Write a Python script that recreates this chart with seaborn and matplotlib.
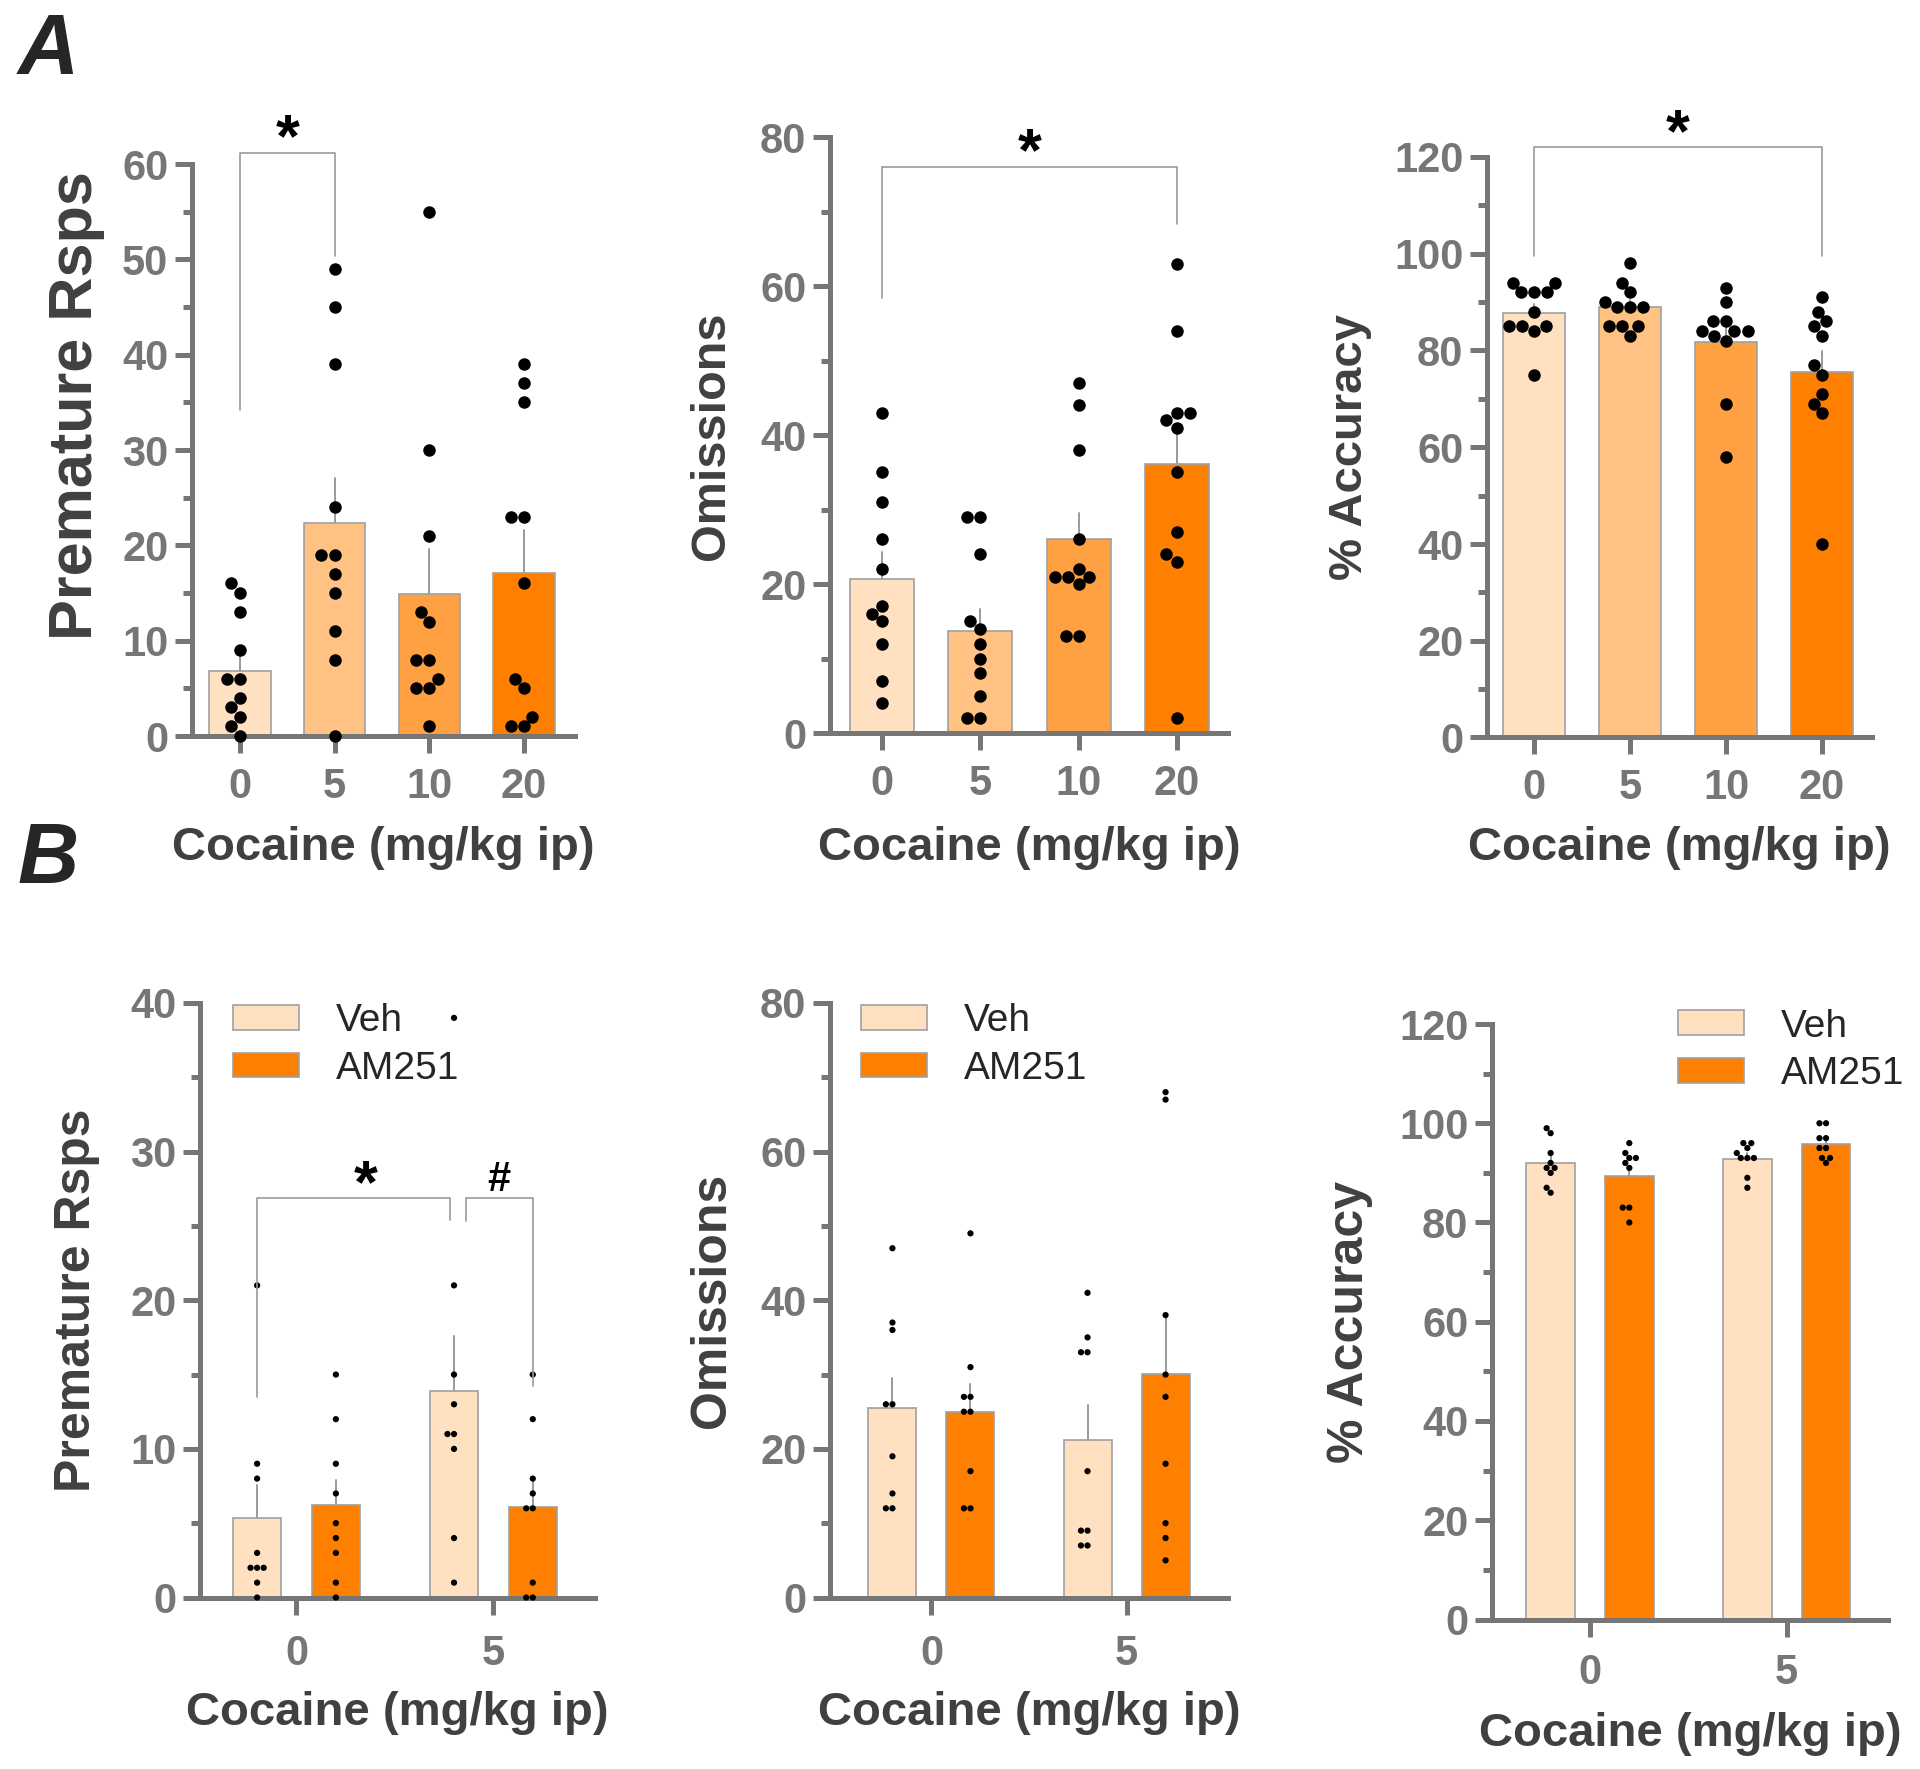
import numpy as np
import pandas as pd
import matplotlib
matplotlib.use('Agg')
import matplotlib.pyplot as plt
import matplotlib.transforms as mtransforms
from matplotlib.patches import Patch
from matplotlib.ticker import MultipleLocator
import seaborn as sns

# ---- data ----
doses_a = ['0', '5', '10', '20']
colors_a = ['#FFE0C1', '#FFC283', '#FFA142', '#FF8000']

premature_a = [
    [16, 15, 13, 9, 6, 6, 4, 3, 2, 1, 0],
    [49, 45, 39, 24, 19, 19, 17, 15, 11, 8, 0],
    [55, 30, 21, 13, 12, 8, 8, 6, 5, 5, 1],
    [39, 37, 35, 23, 23, 16, 6, 5, 2, 1, 1],
]
omissions_a = [
    [43, 35, 31, 26, 22, 17, 16, 15, 12, 7, 4],
    [29, 29, 24, 15, 14, 12, 10, 8, 5, 2, 2],
    [47, 44, 38, 26, 22, 21, 21, 21, 20, 13, 13],
    [63, 54, 43, 43, 42, 41, 35, 27, 24, 23, 2],
]
accuracy_a = [
    [94, 94, 92, 92, 92, 88, 85, 85, 85, 84, 75],
    [98, 94, 92, 90, 89, 89, 89, 85, 85, 85, 83],
    [93, 90, 86, 86, 84, 84, 84, 83, 82, 69, 58],
    [91, 88, 86, 85, 83, 77, 75, 71, 69, 67, 40],
]

doses_b = ['0', '5']
groups_b = ['Veh', 'AM251']
colors_b = ['#FFE0C1', '#FF8000']

premature_veh = [[21, 9, 8, 3, 2, 2, 2, 1, 0], [39, 21, 15, 13, 11, 11, 10, 4, 1]]
premature_am = [[15, 12, 9, 7, 5, 4, 3, 1, 0], [15, 12, 8, 7, 6, 6, 1, 0, 0]]
omissions_veh = [[47, 37, 36, 26, 26, 19, 14, 12, 12], [41, 35, 33, 33, 17, 9, 9, 7, 7]]
omissions_am = [[49, 31, 27, 27, 25, 25, 17, 12, 12], [68, 67, 38, 30, 27, 18, 10, 8, 5]]
accuracy_veh = [[99, 98, 94, 92, 91, 91, 90, 87, 86], [96, 96, 95, 94, 93, 93, 93, 89, 87]]
accuracy_am = [[96, 94, 93, 93, 92, 91, 83, 83, 80], [100, 100, 97, 97, 95, 95, 93, 93, 92]]

# significance brackets: (x0, x1, top, leg0, leg1, symbol, symbol_x)
sig_a1 = (0, 1, 61.2, 34.2, 50.3, '*', 0.5)
sig_a2 = (0, 3, 76.1, 58.5, 68.4, '*', 1.5)
sig_a3 = (0, 3, 122.0, 99.5, 99.5, '*', 1.5)
sig_b1 = [(-0.2, 0.78, 26.9, 13.5, 25.4, '*', 0.35),
          (0.86, 1.2, 26.9, 25.3, 14.2, '#', 1.03)]

# ---- style ----
sns.set_style('ticks')
plt.rcParams['font.family'] = ['Liberation Sans', 'DejaVu Sans']

AXIS_GREY = '#767676'
LABEL_GREY = '#404040'
LINE_GREY = '#9A9A9A'
EDGE_GREY = '#A0A0A0'

W, H = 1920, 1769
fig = plt.figure(figsize=(W / 100, H / 100), dpi=100)


def frame(left, top, right, bottom):
    # pixel box -> figure fraction
    return [left / W, 1 - bottom / H, (right - left) / W, (bottom - top) / H]


def long_a(values):
    rows = [(d, v) for d, vals in zip(doses_a, values) for v in vals]
    return pd.DataFrame(rows, columns=['dose', 'value'])


def long_b(veh, am):
    rows = []
    for grp, vals in zip(groups_b, [veh, am]):
        for d, vs in zip(doses_b, vals):
            rows += [(d, grp, v) for v in vs]
    return pd.DataFrame(rows, columns=['dose', 'group', 'value'])


def style_axis(ax, ymax, major, xlim, ylabel, ylab_x, ylab_y, ylab_size,
               xlab_top, xpad):
    ax.set_ylim(0, ymax)
    ax.set_xlim(*xlim)
    ax.yaxis.set_major_locator(MultipleLocator(major))
    ax.yaxis.set_minor_locator(MultipleLocator(major / 2))
    for s in ['top', 'right']:
        ax.spines[s].set_visible(False)
    for s in ['left', 'bottom']:
        ax.spines[s].set_color(AXIS_GREY)
        ax.spines[s].set_linewidth(3.6)
    ax.tick_params(axis='both', which='major', direction='out', length=12,
                   width=3.6, color=AXIS_GREY, labelcolor=AXIS_GREY, labelsize=30)
    ax.tick_params(axis='y', which='minor', direction='out', length=6.5,
                   width=3.6, color=AXIS_GREY, left=True)
    ax.tick_params(axis='y', which='major', pad=5)
    ax.tick_params(axis='x', which='major', pad=xpad)
    for lab in ax.get_xticklabels() + ax.get_yticklabels():
        lab.set_fontweight('bold')
    ax.set_xlabel('Cocaine (mg/kg ip)', fontsize=34, fontweight='bold', color=LABEL_GREY)
    ax.set_ylabel(ylabel, fontsize=ylab_size, fontweight='bold', color=LABEL_GREY)
    ax.xaxis.set_label_coords(0.5, 1 - xlab_top / H,
                              transform=mtransforms.blended_transform_factory(ax.transAxes, fig.transFigure))
    ax.yaxis.set_label_coords(ylab_x / W, ylab_y,
                              transform=mtransforms.blended_transform_factory(fig.transFigure, ax.transAxes))
    ax.yaxis.label.set_verticalalignment('center')


def bracket(ax, sig, fontsize):
    x0, x1, top, l0, l1, sym, sx = sig
    ax.plot([x0, x0, x1, x1], [l0, top, top, l1], color=LINE_GREY, lw=1.2,
            clip_on=False, zorder=4)
    shift = mtransforms.offset_copy(ax.transData, fig, y=-0.28 * fontsize if sym == '*' else -0.05 * fontsize,
                                    units='points')
    ax.text(sx, top, sym, ha='center', va='bottom', fontsize=fontsize,
            fontweight='bold', color='black', transform=shift, clip_on=False)


def panel_a(rect, values, ymax, major, ylabel, ylab_x, ylab_y, ylab_size, xlim, sig):
    ax = fig.add_axes(rect)
    df = long_a(values)
    sns.barplot(data=df, x='dose', y='value', order=doses_a, hue='dose',
                hue_order=doses_a, palette=colors_a, saturation=1, legend=False,
                errorbar='se', width=0.65, edgecolor=EDGE_GREY, linewidth=1.2,
                err_kws={'color': LINE_GREY, 'linewidth': 1.4, 'zorder': 0.5},
                ax=ax)
    sns.swarmplot(data=df, x='dose', y='value', order=doses_a, color='black',
                  size=9, ax=ax, zorder=3, clip_on=False)
    style_axis(ax, ymax, major, xlim, ylabel, ylab_x, ylab_y, ylab_size, 826, 10)
    bracket(ax, sig, 44)
    return ax


def panel_b(rect, veh, am, ymax, major, ylabel, ylab_x, xlim, xlab_top, xpad, leg_xy):
    ax = fig.add_axes(rect)
    df = long_b(veh, am)
    sns.barplot(data=df, x='dose', y='value', order=doses_b, hue='group',
                hue_order=groups_b, palette=colors_b, saturation=1, legend=False,
                errorbar='se', width=0.8, gap=0.385, edgecolor=EDGE_GREY,
                linewidth=1.2,
                err_kws={'color': LINE_GREY, 'linewidth': 1.4, 'zorder': 0.5},
                ax=ax)
    sns.swarmplot(data=df, x='dose', y='value', order=doses_b, hue='group',
                  hue_order=groups_b, palette=['black', 'black'], dodge=True,
                  size=4.5, legend=False, ax=ax, zorder=3, clip_on=False)
    style_axis(ax, ymax, major, xlim, ylabel, ylab_x, 0.5, 36, xlab_top, xpad)
    handles = [Patch(facecolor=c, edgecolor=EDGE_GREY, linewidth=1.2) for c in colors_b]
    ax.legend(handles, groups_b, loc='upper left', bbox_to_anchor=leg_xy,
              frameon=False, fontsize=28, handlelength=1.7, handleheight=0.6,
              handletextpad=0.95, labelspacing=0.3, borderpad=0,
              borderaxespad=0)
    return ax


panel_a(frame(192, 164, 575, 736), premature_a, 60, 10, 'Premature Rsps', 77,
        0.577, 44, (-0.507, 3.54), sig_a1)
panel_a(frame(830, 137.5, 1228, 733), omissions_a, 80, 20, 'Omissions', 712,
        0.5, 35, (-0.53, 3.52), sig_a2)
panel_a(frame(1487, 157, 1872, 737.5), accuracy_a, 120, 20, '% Accuracy', 1350,
        0.5, 34, (-0.49, 3.52), sig_a3)

ax_b1 = panel_b(frame(200, 1003, 595, 1597.5), premature_veh, premature_am, 40, 10,
                'Premature Rsps', 77, (-0.49, 1.516), 1691, 14, (0.084, 1.0))
for s in sig_b1:
    bracket(ax_b1, s, 44 if s[5] == '*' else 30)
panel_b(frame(830, 1003, 1228, 1597.5), omissions_veh, omissions_am, 80, 20,
        'Omissions', 712, (-0.52, 1.52), 1691, 14, (0.078, 1.0))
panel_b(frame(1492, 1024, 1888, 1619.5), accuracy_veh, accuracy_am, 120, 20,
        '% Accuracy', 1350, (-0.498, 1.515), 1712, 12, (0.47, 1.026))

fig.text(18 / W, 1 - 12 / H, 'A', fontsize=61, fontweight='bold', fontstyle='italic',
         ha='left', va='top')
fig.text(18 / W, 1 - 821 / H, 'B', fontsize=61, fontweight='bold', fontstyle='italic',
         ha='left', va='top')

fig.savefig('out.png', dpi=100)
